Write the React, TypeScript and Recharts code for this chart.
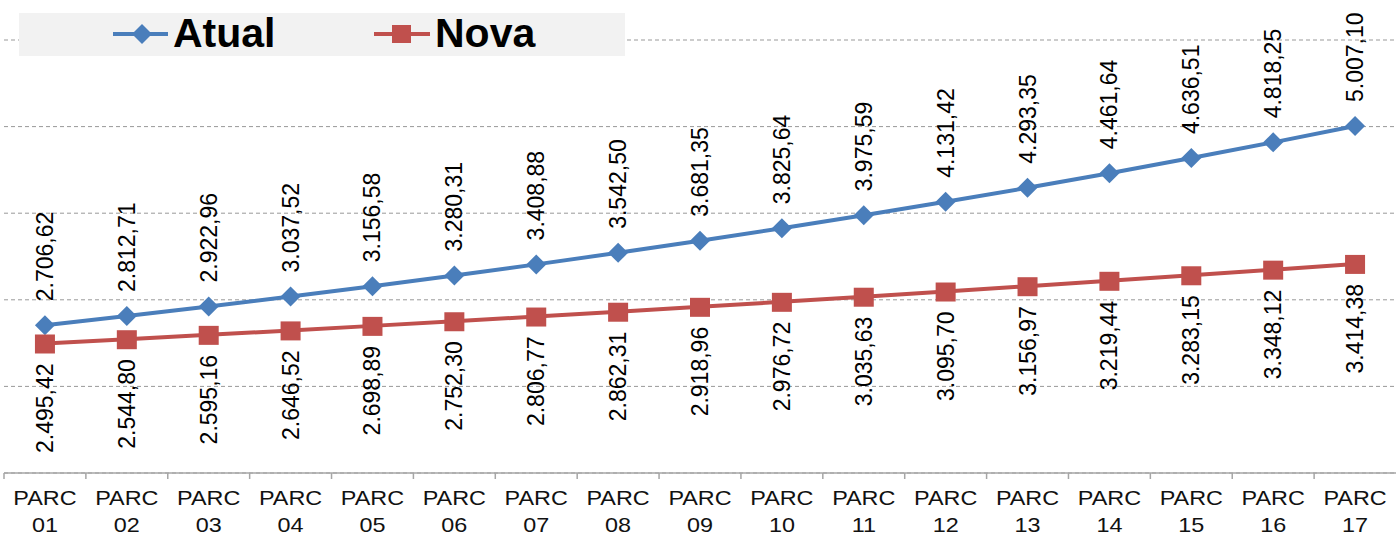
import React from 'react'
import { LineChart, Line, XAxis, YAxis, CartesianGrid, Legend, LabelList } from 'recharts'

const parcelas = ['01', '02', '03', '04', '05', '06', '07', '08', '09', '10', '11', '12', '13', '14', '15', '16', '17']

const atual = [
    2706.62, 2812.71, 2922.96, 3037.52, 3156.58, 3280.31, 3408.88, 3542.5, 3681.35,
    3825.64, 3975.59, 4131.42, 4293.35, 4461.64, 4636.51, 4818.25, 5007.1,
]

const nova = [
    2495.42, 2544.8, 2595.16, 2646.52, 2698.89, 2752.3, 2806.77, 2862.31, 2918.96,
    2976.72, 3035.63, 3095.7, 3156.97, 3219.44, 3283.15, 3348.12, 3414.38,
]

const yTicks = [1000, 2000, 3000, 4000, 5000, 6000]

const data = parcelas.map((p, i) => ({ parc: p, atual: atual[i], nova: nova[i] }))

const FONT = '"Liberation Sans", Arial, sans-serif'
const BLUE = '#4a7ebb'
const RED = '#c0504d'
const HALF = 1392 / parcelas.length / 2

// formato brasileiro: 2.706,62
function fmt(v: number) {
    const [int, dec] = v.toFixed(2).split('.')
    return int.replace(/\B(?=(\d{3})+(?!\d))/g, '.') + ',' + dec
}

function AtualLabel(props: any) {
    const { x, y, value } = props
    return (
        <text
            transform={`translate(${x + 8},${y - 24}) rotate(-90)`}
            textAnchor="start"
            fontSize={23}
            fontFamily={FONT}
            fill="#000"
        >
            {fmt(value)}
        </text>
    )
}

function NovaLabel(props: any) {
    const { x, y, value } = props
    return (
        <text
            transform={`translate(${x + 8},${y + 20}) rotate(-90)`}
            textAnchor="end"
            fontSize={23}
            fontFamily={FONT}
            fill="#000"
        >
            {fmt(value)}
        </text>
    )
}

function ParcTick(props: any) {
    const { x, y, payload } = props
    return (
        <g>
            <line x1={x - HALF} y1={y - 6} x2={x - HALF} y2={y} stroke="#a6a6a6" strokeWidth={1.5} />
            <g transform={`translate(${x},${y})`}>
                <text transform="scale(1.17,1)" textAnchor="middle" fontSize={20} fontFamily={FONT} fill="#111">
                    <tspan x={0} dy={26}>PARC</tspan>
                    <tspan x={0} dy={27}>{payload.value}</tspan>
                </text>
            </g>
        </g>
    )
}

function LegendBox() {
    return (
        <div
            style={{
                width: 606,
                height: 43,
                background: '#f2f2f2',
                position: 'relative',
                fontFamily: FONT,
                fontWeight: 700,
                fontSize: 41,
                color: '#000',
            }}
        >
            <svg width={606} height={43} style={{ position: 'absolute', left: 0, top: 0 }}>
                <line x1={94} y1={21} x2={149} y2={21} stroke={BLUE} strokeWidth={4} />
                <polygon points="123,11 133,21 123,31 113,21" fill={BLUE} />
                <line x1={355} y1={21} x2={411} y2={21} stroke={RED} strokeWidth={4} />
                <rect x={373} y={12} width={19} height={18} fill={RED} />
            </svg>
            <span style={{ position: 'absolute', left: 154, top: -3, lineHeight: '47px' }}>Atual</span>
            <span style={{ position: 'absolute', left: 416, top: -3, lineHeight: '47px' }}>Nova</span>
        </div>
    )
}

const Diamond = (props: any) => {
    const { cx, cy } = props
    return <polygon points={`${cx},${cy - 10} ${cx + 10},${cy} ${cx},${cy + 10} ${cx - 10},${cy}`} fill={BLUE} />
}

const Square = (props: any) => {
    const { cx, cy } = props
    return <rect x={cx - 10} y={cy - 9} width={20} height={19} fill={RED} />
}

export default function App() {
    return (
        <div style={{ width: 1396, height: 537, background: '#fff' }}>
            <style>{'body{margin:0}'}</style>
            <LineChart width={1396} height={537} data={data} margin={{ top: 40, right: 0, bottom: 0, left: 4 }}>
                <CartesianGrid vertical={false} stroke="#999" strokeDasharray="4 3" />
                <XAxis
                    dataKey="parc"
                    height={64}
                    interval={0}
                    padding={{ left: HALF, right: HALF }}
                    stroke="#a6a6a6"
                    strokeWidth={1.5}
                    tickLine={false}
                    tickSize={6}
                    tickMargin={0}
                    tick={<ParcTick />}
                />
                <YAxis hide domain={[1000, 6000]} ticks={yTicks} width={0} />
                <Legend
                    content={<LegendBox />}
                    layout="horizontal"
                    verticalAlign="middle"
                    align="center"
                    wrapperStyle={{ top: 13, left: 19, width: 606, height: 43 }}
                />
                <Line
                    dataKey="atual"
                    name="Atual"
                    stroke={BLUE}
                    strokeWidth={4}
                    dot={<Diamond />}
                    activeDot={false}
                    isAnimationActive={false}
                >
                    <LabelList dataKey="atual" content={<AtualLabel />} />
                </Line>
                <Line
                    dataKey="nova"
                    name="Nova"
                    stroke={RED}
                    strokeWidth={4}
                    dot={<Square />}
                    activeDot={false}
                    isAnimationActive={false}
                >
                    <LabelList dataKey="nova" content={<NovaLabel />} />
                </Line>
            </LineChart>
        </div>
    )
}
